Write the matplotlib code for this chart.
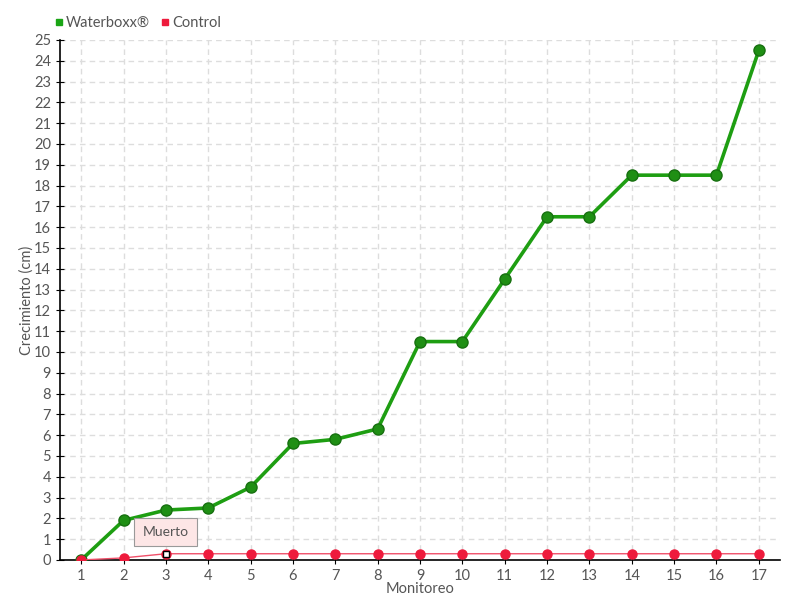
import numpy as np
import matplotlib
matplotlib.use("Agg")
import matplotlib.pyplot as plt

monitoreo = list(range(1, 18))
waterboxx = [0, 1.9, 2.4, 2.5, 3.5, 5.6, 5.8, 6.3, 10.5, 10.5, 13.5, 16.5, 16.5, 18.5, 18.5, 18.5, 24.5]
control = [0, 0.1, 0.3, 0.3, 0.3, 0.3, 0.3, 0.3, 0.3, 0.3, 0.3, 0.3, 0.3, 0.3, 0.3, 0.3, 0.3]

plt.rcParams['font.family'] = ['Lato', 'DejaVu Sans']
txt = '#555555'

fig = plt.figure(figsize=(8, 6), dpi=100)
ax = fig.add_axes([0.075, 0.0667, 0.9, 0.8667])

ax.plot(monitoreo, waterboxx, color='#1e9e12', lw=2.6, marker='o', ms=8,
        mfc='#1f8f14', mec='#177010', mew=1, zorder=3)
ax.plot(monitoreo, control, color='#f0506a', lw=1, marker='o', ms=6.5,
        mfc='#ee1b3c', mec='#ee1b3c', zorder=4)
# marker of the dead plant
ax.plot([3], [control[2]], marker='s', ms=5, mfc='white', mec='black', mew=1, zorder=5)
ax.annotate('Muerto', xy=(3, control[2]), xytext=(3, 1.35), ha='center', va='center',
            fontsize=10, color=txt,
            bbox=dict(boxstyle='square,pad=0.6', fc='#fde6e6', ec='#999999', lw=0.8),
            zorder=6)

ax.set_xlim(0.5, 17.5)
ax.set_ylim(0, 25)
ax.set_xticks(monitoreo)
ax.set_yticks(range(0, 26))
ax.grid(True, color='#dddddd', ls=(0, (4, 3)), lw=1)
ax.set_axisbelow(True)
for s in ['top', 'right']:
    ax.spines[s].set_visible(False)
ax.spines['left'].set_linewidth(1.2)
ax.spines['bottom'].set_linewidth(1.2)
ax.tick_params(axis='y', direction='inout', length=6, colors='black', labelcolor=txt, labelsize=10.5)
ax.tick_params(axis='x', direction='inout', length=6, colors='black', labelcolor=txt, labelsize=10.5)
ax.set_xlabel('Monitoreo', color=txt, fontsize=10.5, labelpad=-1)
ax.set_ylabel('Crecimiento (cm)', color=txt, fontsize=10.5)
ax.yaxis.set_label_coords(-26 / 720, 0.5)

h1 = plt.Line2D([], [], ls='none', marker='s', ms=5, color='#1aa515')
h2 = plt.Line2D([], [], ls='none', marker='s', ms=5, color='#ee1b3c')
fig.legend([h1, h2], ['Waterboxx®', 'Control'], loc='upper left', bbox_to_anchor=(0.05, 0.995),
           ncol=2, frameon=False, fontsize=10.5, handletextpad=0.1, columnspacing=0.6,
           labelcolor=txt, handlelength=0.8)

fig.savefig('out.png')
